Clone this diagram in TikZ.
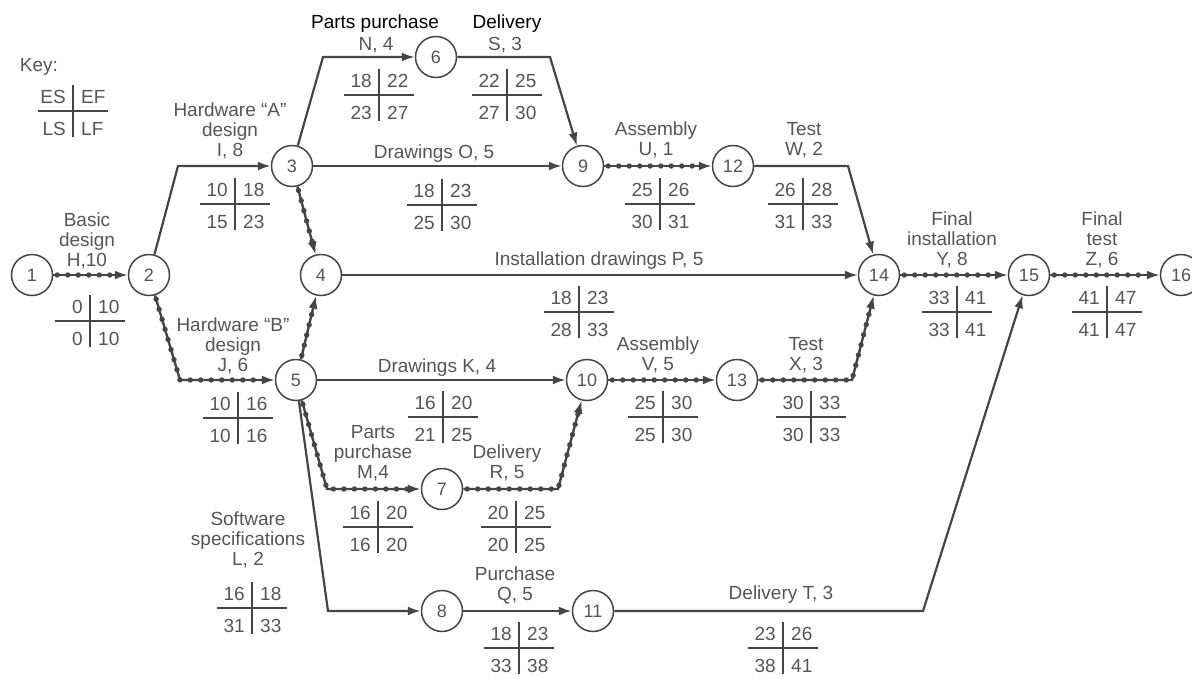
\documentclass[tikz,border=0pt]{standalone}
\usepackage{fontspec}
\setmainfont{Liberation Sans}
\usetikzlibrary{arrows.meta}
\definecolor{ink}{HTML}{454545}
\definecolor{txt}{HTML}{555555}
\newcommand\cpmtab[6]{%
  \begin{scope}[shift={#2}]
    \draw[tabline] (-35,0) -- (35,0);
    \draw[tabline] (0,-26) -- (0,26);
    \node[num,anchor=east] (#1-es) at (-7,-14) {#3};
    \node[num,anchor=west] (#1-ef) at (8,-14) {#4};
    \node[num,anchor=east] (#1-ls) at (-7,18) {#5};
    \node[num,anchor=west] (#1-lf) at (8,18) {#6};
  \end{scope}}
\begin{document}
\begin{tikzpicture}[x=1pt,y=-1pt,
  ev/.style={circle,draw=ink,line width=1.5pt,minimum size=41pt,inner sep=0pt,text=txt,font=\fontsize{18}{20}\selectfont},
  lbl/.style={text=txt,align=center,font=\fontsize{19}{20}\selectfont,inner sep=0pt},
  num/.style={text=txt,font=\fontsize{19}{20}\selectfont,inner sep=0pt},
  plain/.style={draw=ink,line width=2.2pt,-{Latex[length=13pt,width=9pt]}},
  crit/.style={plain,line width=2.4pt,postaction={draw=ink,-,line width=5.4pt,line cap=round,dash pattern=on 0pt off 10.5pt,shorten >=13pt,shorten <=4pt}},
  tabline/.style={draw=ink,line width=1.5pt}]
\useasboundingbox (0,0) rectangle (1192,678);
\clip (0,0) rectangle (1192,678);

% events
\node[ev] (n1) at (32,275) {1};
\node[ev] (n2) at (149,275) {2};
\node[ev] (n3) at (292,166) {3};
\node[ev] (n4) at (321,275) {4};
\node[ev] (n5) at (296,380) {5};
\node[ev] (n6) at (436,57) {6};
\node[ev] (n7) at (442,489) {7};
\node[ev] (n8) at (442,611) {8};
\node[ev] (n9) at (583,166) {9};
\node[ev] (n10) at (587,380) {10};
\node[ev] (n11) at (593,611) {11};
\node[ev] (n12) at (733,166) {12};
\node[ev] (n13) at (737,380) {13};
\node[ev] (n14) at (879,275) {14};
\node[ev] (n15) at (1029,275) {15};
\node[ev] (n16) at (1181,275) {16};

% bend points
\coordinate (c23) at (178,166);
\coordinate (c25) at (180,380);
\coordinate (c36) at (323,57);
\coordinate (c69) at (550,57);
\coordinate (c1214) at (848,166);
\coordinate (c57) at (327,489);
\coordinate (c710) at (558,489);
\coordinate (c58) at (328,611);
\coordinate (c1115) at (923,611);
\coordinate (c1314) at (852,380);

% connectors
\draw[crit] (n1) -- (n2);
\draw[plain] (n2) -- (c23) -- (n3);
\draw[crit] (n2) -- (c25) -- (n5);
\draw[plain] (n3) -- (c36) -- (n6);
\draw[plain] (n6) -- (c69) -- (n9);
\draw[plain] (n3) -- (n9);
\draw[crit] (n3) -- (n4);
\draw[crit] (n5) -- (n4);
\draw[plain] (n4) -- (n14);
\draw[crit] (n9) -- (n12);
\draw[plain] (n12) -- (c1214) -- (n14);
\draw[plain] (n5) -- (n10);
\draw[crit] (n5) -- (c57) -- (n7);
\draw[crit] (n7) -- (c710) -- (n10);
\draw[plain] (n5) -- (c58) -- (n8);
\draw[plain] (n8) -- (n11);
\draw[plain] (n11) -- (c1115) -- (n15);
\draw[crit] (n10) -- (n13);
\draw[crit] (n13) -- (c1314) -- (n14);
\draw[crit] (n14) -- (n15);
\draw[crit] (n15) -- (n16);

% labels
\node[lbl] (key) at (39,67) {Key:};
\node[lbl] (lH) at (87,241) {Basic\\design\\H,10};
\node[lbl] (lI) at (230,131) {Hardware “A”\\design\\I, 8};
\node[lbl,text=black] (lNt) at (375,24) {Parts purchase};
\node[lbl] (lN) at (376,45) {N, 4};
\node[lbl,text=black] (lSt) at (507,24) {Delivery};
\node[lbl] (lS) at (505,45) {S, 3};
\node[lbl] (lO) at (434,154) {Drawings O, 5};
\node[lbl] (lU) at (656,140) {Assembly\\U, 1};
\node[lbl] (lW) at (804,140) {Test\\W, 2};
\node[lbl] (lP) at (599,261) {Installation drawings P, 5};
\node[lbl] (lY) at (952,240) {Final\\installation\\Y, 8};
\node[lbl] (lZ) at (1102,240) {Final\\test\\Z, 6};
\node[lbl] (lJ) at (233,346) {Hardware “B”\\design\\J, 6};
\node[lbl] (lK) at (437,368) {Drawings K, 4};
\node[lbl] (lM) at (373,453) {Parts\\purchase\\M,4};
\node[lbl] (lR) at (507,463) {Delivery\\R, 5};
\node[lbl] (lV) at (658,355) {Assembly\\V, 5};
\node[lbl] (lX) at (806,355) {Test\\X, 3};
\node[lbl] (lL) at (248,540) {Software\\specifications\\L, 2};
\node[lbl] (lQ) at (515,585) {Purchase\\Q, 5};
\node[lbl] (lT) at (781,595) {Delivery T, 3};

% time tables
\cpmtab{tKey}{(73,111)}{ES}{EF}{LS}{LF}
\cpmtab{tH}{(90,321)}{0}{10}{0}{10}
\cpmtab{tI}{(235,204)}{10}{18}{15}{23}
\cpmtab{tN}{(379,95)}{18}{22}{23}{27}
\cpmtab{tS}{(507,95)}{22}{25}{27}{30}
\cpmtab{tO}{(442,205)}{18}{23}{25}{30}
\cpmtab{tU}{(660,204)}{25}{26}{30}{31}
\cpmtab{tW}{(803,204)}{26}{28}{31}{33}
\cpmtab{tP}{(579,312)}{18}{23}{28}{33}
\cpmtab{tY}{(957,312)}{33}{41}{33}{41}
\cpmtab{tZ}{(1107,312)}{41}{47}{41}{47}
\cpmtab{tJ}{(238,418)}{10}{16}{10}{16}
\cpmtab{tK}{(443,417)}{16}{20}{21}{25}
\cpmtab{tV}{(663,417)}{25}{30}{25}{30}
\cpmtab{tX}{(811,417)}{30}{33}{30}{33}
\cpmtab{tM}{(378,527)}{16}{20}{16}{20}
\cpmtab{tR}{(516,527)}{20}{25}{20}{25}
\cpmtab{tL}{(252,608)}{16}{18}{31}{33}
\cpmtab{tQ}{(519,648)}{18}{23}{33}{38}
\cpmtab{tT}{(783,648)}{23}{26}{38}{41}
\end{tikzpicture}
\end{document}
